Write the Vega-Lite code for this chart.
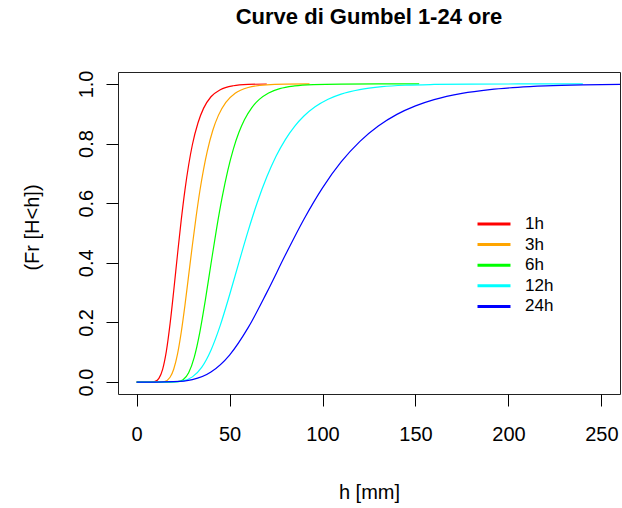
{
  "$schema": "https://vega.github.io/schema/vega-lite/v6.json",
  "autosize": {"type": "none"},
  "padding": {"left": 118, "top": 72, "right": 2, "bottom": 114},
  "width": 502,
  "height": 322,
  "background": "white",
  "config": {
    "font": "Liberation Sans",
    "view": {"stroke": "#222222", "strokeWidth": 1}
  },
  "title": {"text": "Curve di Gumbel 1-24 ore", "fontSize": 22, "fontWeight": "bold", "font": "Liberation Sans", "color": "black", "offset": 41},
  "data": {"values": [
    {"s":"1h","h":0,"F":0},{"s":"1h","h":5,"F":0},{"s":"1h","h":8,"F":0.0002},{"s":"1h","h":10,"F":0.0023},{"s":"1h","h":12,"F":0.0126},{"s":"1h","h":14,"F":0.0428},{"s":"1h","h":16,"F":0.103},{"s":"1h","h":18,"F":0.195},{"s":"1h","h":20,"F":0.308},{"s":"1h","h":22,"F":0.428},{"s":"1h","h":24,"F":0.543},{"s":"1h","h":26,"F":0.644},{"s":"1h","h":28,"F":0.728},{"s":"1h","h":30,"F":0.796},{"s":"1h","h":33,"F":0.869},{"s":"1h","h":36,"F":0.918},{"s":"1h","h":40,"F":0.957},{"s":"1h","h":45,"F":0.9806},{"s":"1h","h":52,"F":0.9938},{"s":"1h","h":60,"F":0.9983},{"s":"1h","h":70,"F":0.9997},
    {"s":"3h","h":0,"F":0},{"s":"3h","h":12,"F":0.0001},{"s":"3h","h":15,"F":0.0019},{"s":"3h","h":18,"F":0.0162},{"s":"3h","h":20,"F":0.044},{"s":"3h","h":22,"F":0.0939},{"s":"3h","h":24,"F":0.1668},{"s":"3h","h":26,"F":0.2572},{"s":"3h","h":28,"F":0.3577},{"s":"3h","h":30,"F":0.459},{"s":"3h","h":32,"F":0.554},{"s":"3h","h":34,"F":0.64},{"s":"3h","h":36,"F":0.7128},{"s":"3h","h":38,"F":0.7738},{"s":"3h","h":41,"F":0.8445},{"s":"3h","h":44,"F":0.8945},{"s":"3h","h":48,"F":0.9381},{"s":"3h","h":53,"F":0.9686},{"s":"3h","h":60,"F":0.988},{"s":"3h","h":70,"F":0.997},{"s":"3h","h":80,"F":0.9993},{"s":"3h","h":93,"F":0.9999},
    {"s":"6h","h":0,"F":0},{"s":"6h","h":18,"F":0},{"s":"6h","h":22,"F":0.0012},{"s":"6h","h":25,"F":0.0081},{"s":"6h","h":28,"F":0.0314},{"s":"6h","h":31,"F":0.083},{"s":"6h","h":34,"F":0.167},{"s":"6h","h":37,"F":0.2759},{"s":"6h","h":40,"F":0.396},{"s":"6h","h":43,"F":0.514},{"s":"6h","h":46,"F":0.6194},{"s":"6h","h":49,"F":0.7086},{"s":"6h","h":52,"F":0.7806},{"s":"6h","h":55,"F":0.8368},{"s":"6h","h":58,"F":0.8798},{"s":"6h","h":62,"F":0.9208},{"s":"6h","h":66,"F":0.9482},{"s":"6h","h":71,"F":0.9698},{"s":"6h","h":77,"F":0.9843},{"s":"6h","h":85,"F":0.9934},{"s":"6h","h":95,"F":0.9978},{"s":"6h","h":110,"F":0.9996},{"s":"6h","h":130,"F":1},{"s":"6h","h":152,"F":1},
    {"s":"12h","h":0,"F":0},{"s":"12h","h":10,"F":0},{"s":"12h","h":20,"F":0.0007},{"s":"12h","h":25,"F":0.0043},{"s":"12h","h":30,"F":0.0174},{"s":"12h","h":35,"F":0.0494},{"s":"12h","h":40,"F":0.1071},{"s":"12h","h":45,"F":0.1903},{"s":"12h","h":50,"F":0.292},{"s":"12h","h":55,"F":0.4006},{"s":"12h","h":60,"F":0.5071},{"s":"12h","h":65,"F":0.604},{"s":"12h","h":70,"F":0.6875},{"s":"12h","h":75,"F":0.7573},{"s":"12h","h":80,"F":0.8133},{"s":"12h","h":85,"F":0.8578},{"s":"12h","h":90,"F":0.8924},{"s":"12h","h":96,"F":0.9234},{"s":"12h","h":103,"F":0.9488},{"s":"12h","h":110,"F":0.966},{"s":"12h","h":120,"F":0.9811},{"s":"12h","h":132,"F":0.9907},{"s":"12h","h":145,"F":0.9957},{"s":"12h","h":160,"F":0.9982},{"s":"12h","h":180,"F":0.9995},{"s":"12h","h":205,"F":0.9999},{"s":"12h","h":240,"F":1},
    {"s":"24h","h":0,"F":0},{"s":"24h","h":10,"F":0.0001},{"s":"24h","h":20,"F":0.0012},{"s":"24h","h":30,"F":0.0083},{"s":"24h","h":40,"F":0.0337},{"s":"24h","h":50,"F":0.0906},{"s":"24h","h":60,"F":0.1825},{"s":"24h","h":70,"F":0.3},{"s":"24h","h":80,"F":0.426},{"s":"24h","h":90,"F":0.5463},{"s":"24h","h":100,"F":0.6516},{"s":"24h","h":110,"F":0.7384},{"s":"24h","h":120,"F":0.8067},{"s":"24h","h":130,"F":0.8588},{"s":"24h","h":140,"F":0.8978},{"s":"24h","h":150,"F":0.9264},{"s":"24h","h":160,"F":0.9473},{"s":"24h","h":175,"F":0.9683},{"s":"24h","h":190,"F":0.981},{"s":"24h","h":205,"F":0.9886},{"s":"24h","h":220,"F":0.9932},{"s":"24h","h":240,"F":0.9966},{"s":"24h","h":260,"F":0.9983}
  ]},
  "mark": {"type": "line", "strokeWidth": 1.2, "interpolate": "monotone", "clip": true},
  "encoding": {
    "x": {"field": "h", "type": "quantitative",
      "scale": {"domain": [-10, 260], "nice": false, "zero": false},
      "axis": {"values": [0, 50, 100, 150, 200, 250], "title": "h [mm]", "grid": false, "domain": false,
        "tickSize": 12, "tickColor": "black", "labelFontSize": 20, "labelColor": "black", "labelPadding": 18,
        "labelFlush": false, "titleFontSize": 20, "titleFontWeight": "normal", "titleColor": "black",
        "titleX": 251, "titleY": 98, "titleBaseline": "middle", "titleAlign": "center"}},
    "y": {"field": "F", "type": "quantitative",
      "scale": {"domain": [-0.04, 1.04], "nice": false, "zero": false},
      "axis": {"values": [0, 0.2, 0.4, 0.6, 0.8, 1.0], "format": ".1f", "title": "(Fr [H<h])", "grid": false, "domain": false,
        "tickSize": 12, "tickColor": "black", "labelFontSize": 20, "labelColor": "black", "labelPadding": 10,
        "labelAngle": -90, "labelAlign": "center", "labelBaseline": "bottom", "labelFlush": false,
        "titleFontSize": 20, "titleFontWeight": "normal", "titleColor": "black",
        "titleAngle": -90, "titleX": -86, "titleY": 155, "titleBaseline": "middle", "titleAlign": "center"}},
    "color": {"field": "s", "type": "nominal",
      "scale": {"domain": ["1h", "3h", "6h", "12h", "24h"], "range": ["#FF0000", "#FFA500", "#00FF00", "#00FFFF", "#0000FF"]},
      "legend": {"title": null, "orient": "none", "legendX": 366, "legendY": 142,
        "symbolType": "M-2,0H2", "symbolSize": 272, "symbolStrokeWidth": 3,
        "labelFontSize": 17, "labelColor": "black", "labelOffset": 21, "rowPadding": 2.6, "padding": 0}}
  }
}
